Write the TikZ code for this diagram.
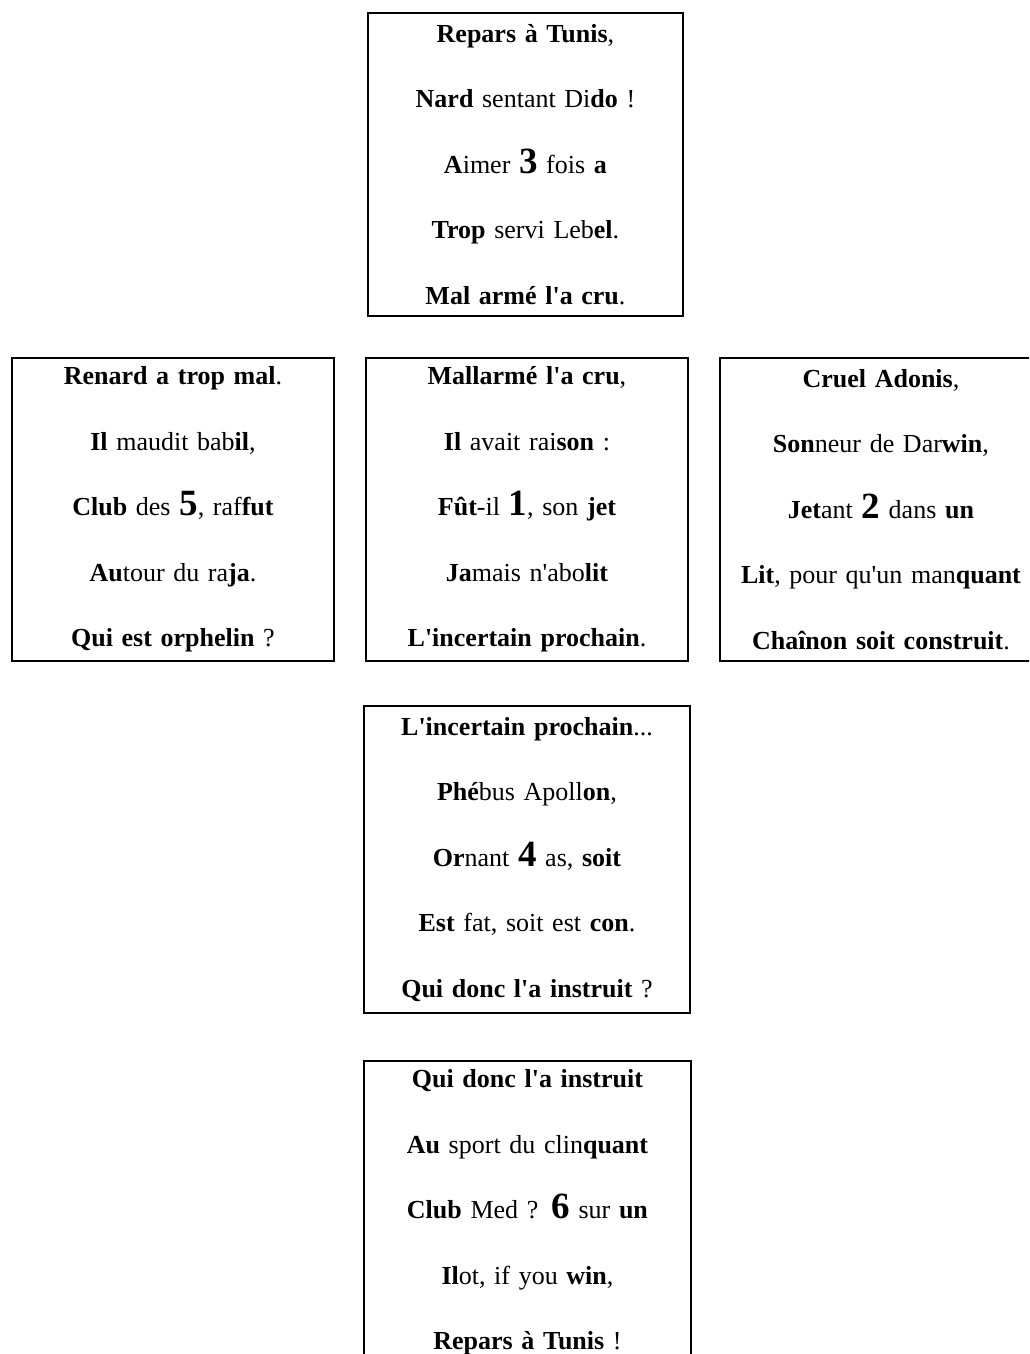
\documentclass[tikz,border=0pt]{standalone}
\usepackage{fontspec}
\setmainfont{Liberation Serif}[Ligatures=TeXOff]

\tikzstyle{stanza} = [draw, line width=1.9pt, inner sep=0pt, anchor=north west, align=center, minimum height=303pt, font=\fontsize{26}{65.5}\selectfont]
\newcommand{\digit}[1]{{\fontsize{37}{37}\selectfont\textbf{#1}}}

\begin{document}
\begin{tikzpicture}[x=1pt, y=-1pt]
		\path[use as bounding box, clip] (0,0) rectangle (1029,1354);
		
		\node[stanza, text width=315pt, minimum width=315pt] (s_3) at (367,12) {%
			\textbf{Repars à Tunis},\\
			\textbf{Nard} sentant Di\textbf{do} !\\
			\textbf{A}imer \digit{3} fois \textbf{a}\\
			\textbf{Trop} servi Leb\textbf{el}.\\
			\textbf{Mal armé l'a cru}.};
		
		\node[stanza, text width=322pt, minimum width=322pt] (s_5) at (11,357) {%
			\textbf{Renard a trop mal}.\\
			\textbf{Il} maudit bab\textbf{il},\\
			\textbf{Club} des \digit{5}, raf\textbf{fut}\\
			\textbf{Au}tour du ra\textbf{ja}.\\
			\textbf{Qui est orphelin} ?};
		
		\node[stanza, text width=322pt, minimum width=322pt] (s_1) at (365,357) {%
			\textbf{Mallarmé l'a cru},\\
			\textbf{Il} avait rai\textbf{son} :\\
			\textbf{Fût}-il \digit{1}, son \textbf{jet}\\
			\textbf{Ja}mais n'abo\textbf{lit}\\
			\textbf{L'incertain prochain}.};
		
		\node[stanza, text width=322pt, minimum width=322pt] (s_2) at (719,357) {%
			\textbf{Cruel Adonis},\\
			\textbf{Son}neur de Dar\textbf{win},\\
			\textbf{Jet}ant \digit{2} dans \textbf{un}\\
			\textbf{Lit}, pour qu'un man\textbf{quant}\\
			\textbf{Chaînon soit construit}.};
		
		\node[stanza, text width=326pt, minimum width=326pt, minimum height=307pt] (s_4) at (363,705) {%
			\textbf{L'incertain prochain}...\\
			\textbf{Phé}bus Apoll\textbf{on},\\
			\textbf{Or}nant \digit{4} as, \textbf{soit}\\
			\textbf{Est} fat, soit est \textbf{con}.\\
			\textbf{Qui donc l'a instruit} ?};
		
		\node[stanza, text width=327pt, minimum width=327pt] (s_6) at (363,1060) {%
			\textbf{Qui donc l'a instruit}\\
			\textbf{Au} sport du clin\textbf{quant}\\
			\textbf{Club} Med ? \digit{6} sur \textbf{un}\\
			\textbf{Il}ot, if you \textbf{win},\\
			\textbf{Repars à Tunis} !};
		
	\end{tikzpicture}
\end{document}
